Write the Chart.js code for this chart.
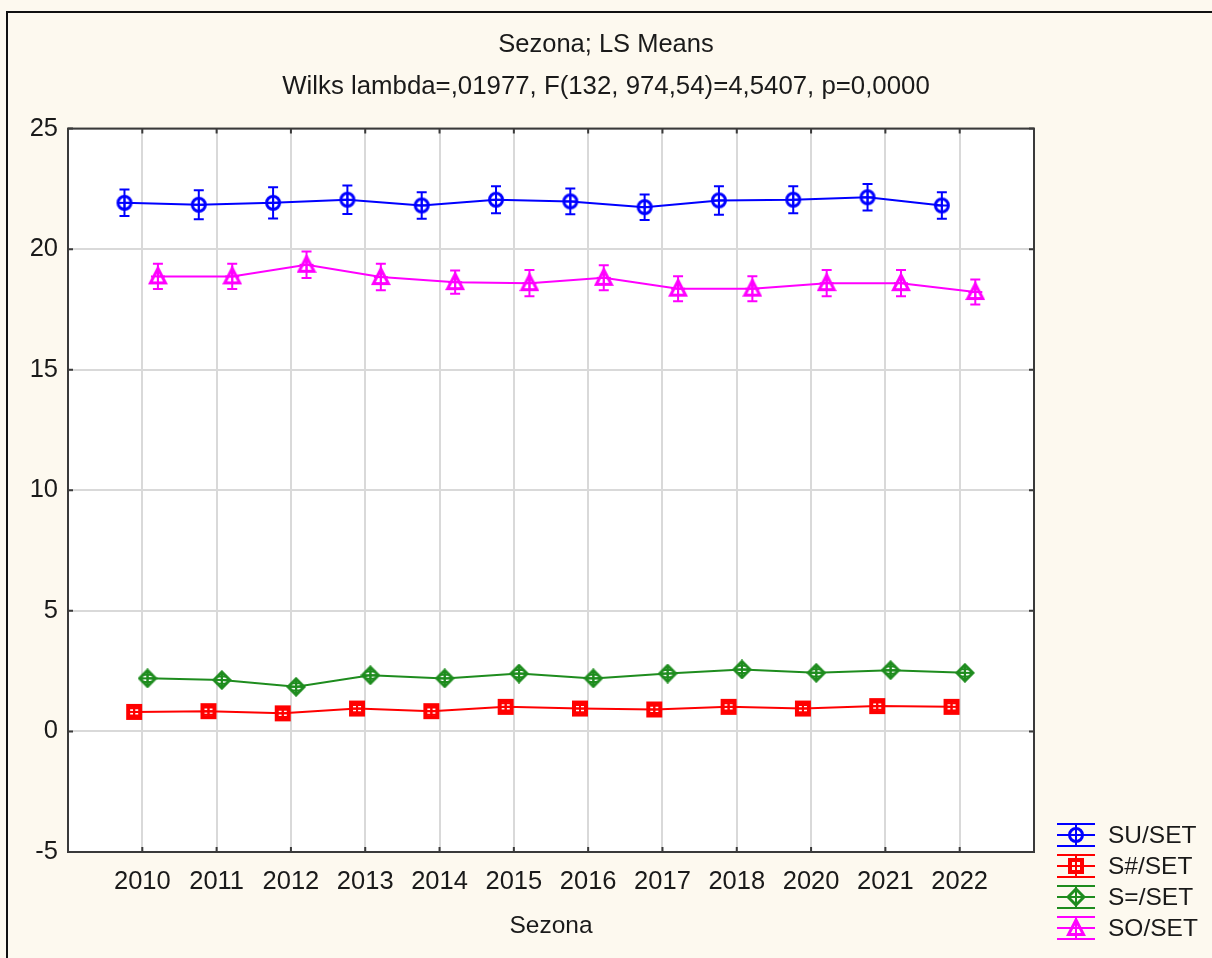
<!DOCTYPE html>
<html>
<head>
<meta charset="utf-8">
<title>Sezona; LS Means</title>
<script src="https://cdn.jsdelivr.net/npm/chart.js@4.4.1/dist/chart.umd.min.js"></script>
<style>
  body { margin: 0; background: #fdf9ef; }
  #wrap { width: 1212px; height: 958px; }
</style>
</head>
<body>
<div id="wrap"><canvas id="lsMeans" width="1212" height="958"></canvas></div>
<script>
// categories (no 2019 season in the data)
const years = ['2010', '2011', '2012', '2013', '2014', '2015', '2016', '2017', '2018', '2020', '2021', '2022'];
const yTicks = [-5, 0, 5, 10, 15, 20, 25];

// LS means per season
const suSet    = [21.92, 21.84, 21.92, 22.05, 21.81, 22.05, 21.98, 21.74, 22.02, 22.05, 22.15, 21.81];
const sHashSet = [0.81, 0.84, 0.75, 0.95, 0.84, 1.02, 0.95, 0.91, 1.02, 0.95, 1.05, 1.02];
const sEqSet   = [2.20, 2.13, 1.85, 2.33, 2.20, 2.40, 2.20, 2.40, 2.57, 2.43, 2.54, 2.43];
const soSet    = [18.87, 18.87, 19.35, 18.84, 18.63, 18.59, 18.81, 18.36, 18.36, 18.59, 18.59, 18.22];

// half width of the confidence whiskers
const suErr    = [0.55, 0.60, 0.65, 0.59, 0.55, 0.56, 0.53, 0.53, 0.59, 0.56, 0.55, 0.55];
const sHashErr = [0.15, 0.15, 0.15, 0.15, 0.15, 0.15, 0.15, 0.15, 0.15, 0.15, 0.15, 0.15];
const sEqErr   = [0.15, 0.15, 0.15, 0.15, 0.15, 0.15, 0.15, 0.15, 0.15, 0.15, 0.15, 0.15];
const soErr    = [0.52, 0.52, 0.55, 0.55, 0.48, 0.54, 0.52, 0.52, 0.52, 0.54, 0.54, 0.52];

const FONT = '"Liberation Sans", Arial, sans-serif';
const TEXT = '#1a1a1a';

// marker glyphs like the Statistica ones (shape + cross)
function makeMarker(shape, color) {
	const c = document.createElement('canvas');
	c.width = 20; c.height = 20;
	const g = c.getContext('2d');
	g.strokeStyle = color;
	g.lineWidth = 3;
	g.translate(10, 10);
	g.beginPath();
	if (shape === 'circle') {
		g.arc(0, 0, 6.5, 0, Math.PI * 2);
	} else if (shape === 'square') {
		g.lineWidth = 4;
		g.rect(-6, -6, 12, 12);
	} else if (shape === 'diamond') {
		g.moveTo(0, -8); g.lineTo(8, 0); g.lineTo(0, 8); g.lineTo(-8, 0); g.closePath();
	} else {
		g.moveTo(0, -8); g.lineTo(7.5, 6.5); g.lineTo(-7.5, 6.5); g.closePath();
	}
	g.stroke();
	g.lineWidth = 2;
	g.beginPath();
	g.moveTo(0, -7); g.lineTo(0, 7);
	g.moveTo(-7, 0); g.lineTo(7, 0);
	g.stroke();
	return c;
}

function series(label, values, errs, color, shape, shift) {
	const img = makeMarker(shape, color);
	return {
		label: label,
		data: values.map((v, i) => ({ x: i + shift, y: v })),
		errs: errs,
		borderColor: color,
		backgroundColor: color,
		borderWidth: 2,
		tension: 0,
		pointStyle: img,
		pointRadius: 8,
		marker: img
	};
}

// white plot box inside the cream frame
const framePlugin = {
	id: 'framePlugin',
	beforeDraw(chart) {
		const { ctx, chartArea: a, width, height } = chart;
		ctx.save();
		ctx.fillStyle = '#fdf9ef';
		ctx.fillRect(0, 0, width, height);
		ctx.strokeStyle = '#111';
		ctx.lineWidth = 2;
		ctx.beginPath();
		ctx.moveTo(7, height + 2); ctx.lineTo(7, 12); ctx.lineTo(width + 2, 12);
		ctx.stroke();
		ctx.fillStyle = '#ffffff';
		ctx.fillRect(a.left, a.top, a.right - a.left, a.bottom - a.top);
		ctx.restore();
	},
	afterDraw(chart) {
		const { ctx, chartArea: a, scales: { x, y } } = chart;
		ctx.save();
		ctx.strokeStyle = '#3a3a3a';
		ctx.lineWidth = 2;
		ctx.strokeRect(a.left, a.top, a.right - a.left, a.bottom - a.top);
		ctx.beginPath();
		yTicks.forEach(v => {
			const py = y.getPixelForValue(v);
			ctx.moveTo(a.left, py); ctx.lineTo(a.left + 5, py);
			ctx.moveTo(a.right, py); ctx.lineTo(a.right - 5, py);
		});
		years.forEach((yr, i) => {
			const px = x.getPixelForValue(i);
			ctx.moveTo(px, a.bottom); ctx.lineTo(px, a.bottom - 5);
			ctx.moveTo(px, a.top); ctx.lineTo(px, a.top + 5);
		});
		ctx.stroke();
		ctx.restore();
	}
};

// whiskers with caps
const errorBarPlugin = {
	id: 'errorBarPlugin',
	afterDatasetsDraw(chart) {
		const { ctx, scales: { x, y } } = chart;
		ctx.save();
		chart.data.datasets.forEach(ds => {
			ctx.strokeStyle = ds.borderColor;
			ctx.lineWidth = 2;
			ctx.beginPath();
			ds.data.forEach((p, i) => {
				const px = x.getPixelForValue(p.x);
				const top = y.getPixelForValue(p.y + ds.errs[i]);
				const bot = y.getPixelForValue(p.y - ds.errs[i]);
				ctx.moveTo(px, top); ctx.lineTo(px, bot);
				ctx.moveTo(px - 5, top); ctx.lineTo(px + 5, top);
				ctx.moveTo(px - 5, bot); ctx.lineTo(px + 5, bot);
			});
			ctx.stroke();
		});
		ctx.restore();
	}
};

// legend in the lower right corner, outside the plot box
const legendPlugin = {
	id: 'legendPlugin',
	afterDraw(chart) {
		const { ctx, chartArea: a } = chart;
		const x0 = a.right + 23;
		let cy = a.bottom - 17;
		ctx.save();
		ctx.font = '24.5px ' + FONT;
		ctx.textBaseline = 'middle';
		chart.data.datasets.forEach(ds => {
			ctx.strokeStyle = ds.borderColor;
			ctx.lineWidth = 2;
			ctx.beginPath();
			ctx.moveTo(x0, cy - 11); ctx.lineTo(x0 + 38, cy - 11);
			ctx.moveTo(x0, cy); ctx.lineTo(x0 + 38, cy);
			ctx.moveTo(x0, cy + 11); ctx.lineTo(x0 + 38, cy + 11);
			ctx.moveTo(x0 + 19, cy - 11); ctx.lineTo(x0 + 19, cy + 11);
			ctx.stroke();
			ctx.drawImage(ds.marker, x0 + 9, cy - 10);
			ctx.fillStyle = TEXT;
			ctx.fillText(ds.label, x0 + 51, cy + 1);
			cy += 31;
		});
		ctx.restore();
	}
};

const ctx = document.getElementById('lsMeans').getContext('2d');
new Chart(ctx, {
	type: 'line',
	data: {
		datasets: [
			series('SU/SET', suSet, suErr, '#0000ff', 'circle', -0.24),
			series('S#/SET', sHashSet, sHashErr, '#ff0000', 'square', -0.11),
			series('S=/SET', sEqSet, sEqErr, '#1e8c1e', 'diamond', 0.07),
			series('SO/SET', soSet, soErr, '#ff00ff', 'triangle', 0.21)
		]
	},
	options: {
		responsive: false,
		animation: false,
		layout: { padding: { left: 0, right: 0, top: 0, bottom: 0 } },
		plugins: {
			legend: { display: false },
			tooltip: { enabled: false },
			title: {
				display: true,
				text: 'Sezona; LS Means',
				color: TEXT,
				font: { family: FONT, size: 25.5, weight: 'normal' },
				padding: { top: 30, bottom: 8 }
			},
			subtitle: {
				display: true,
				text: 'Wilks lambda=,01977, F(132, 974,54)=4,5407, p=0,0000',
				color: TEXT,
				font: { family: FONT, size: 25.8, weight: 'normal' },
				padding: { top: 3, bottom: 26 }
			}
		},
		scales: {
			x: {
				type: 'linear',
				min: -1,
				max: 12,
				afterFit(scale) { scale.height = 106; },
				afterBuildTicks(scale) {
					scale.ticks = [];
					for (let i = -1; i <= years.length; i++) scale.ticks.push({ value: i });
				},
				ticks: {
					autoSkip: false,
					maxRotation: 0,
					padding: 15,
					color: TEXT,
					font: { family: FONT, size: 25.5 },
					callback: v => years[v] || ''
				},
				grid: { color: '#d9d9d9', lineWidth: 2, drawTicks: false },
				border: { display: false },
				title: {
					display: true,
					text: 'Sezona',
					color: TEXT,
					font: { family: FONT, size: 24.5 },
					padding: { top: 0, bottom: 17 }
				}
			},
			y: {
				min: -5,
				max: 25,
				afterFit(scale) { scale.width = 68; },
				ticks: {
					stepSize: 5,
					padding: 10,
					color: TEXT,
					font: { family: FONT, size: 25.5 }
				},
				grid: { color: '#d9d9d9', lineWidth: 2, drawTicks: false },
				border: { display: false }
			},
			// empty band on the right that holds the legend
			legendBand: {
				type: 'linear',
				position: 'right',
				afterFit(scale) { scale.width = 178; },
				ticks: { display: false },
				grid: { display: false, drawTicks: false },
				border: { display: false }
			}
		}
	},
	plugins: [framePlugin, errorBarPlugin, legendPlugin]
});
</script>
</body>
</html>
